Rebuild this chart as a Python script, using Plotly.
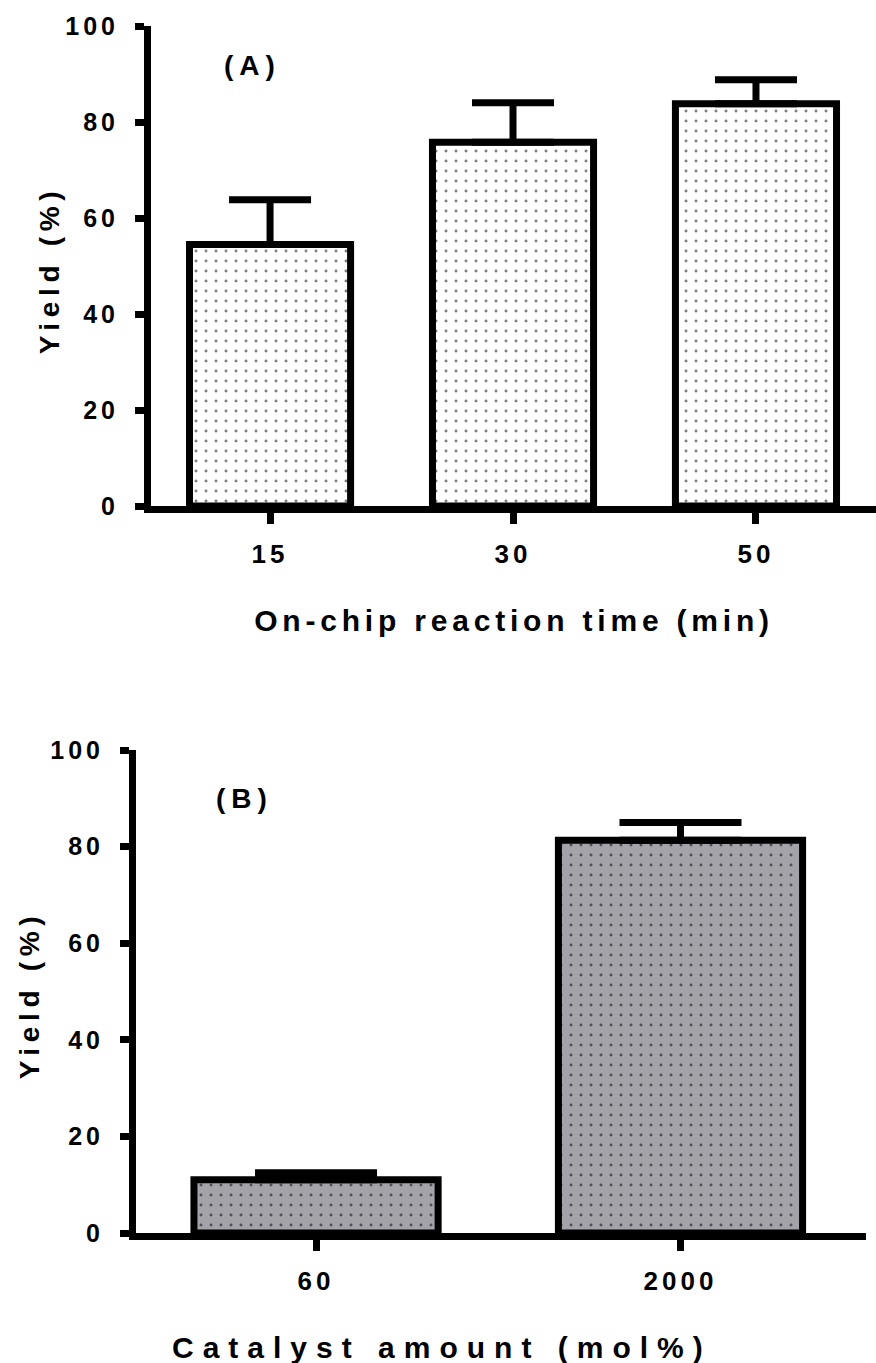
import plotly.graph_objects as go

# ---- data ----
time_labels = ["15", "30", "50"]
time_yield = [54.5, 75.8, 83.8]
time_err = [9.3, 8.2, 5.0]

catalyst_labels = ["60", "2000"]
catalyst_yield = [11.0, 81.3]
catalyst_err = [1.5, 3.7]

y_ticks = [0, 20, 40, 60, 80, 100]

W, H = 876, 1363
FONT = "Liberation Sans, Arial, sans-serif"


def px_x(p):
    return p / W


def px_y(p):
    return 1 - p / H


fig = go.Figure()

fig.add_trace(go.Bar(
    x=time_labels, y=time_yield, width=0.663,
    xaxis="x", yaxis="y",
    marker=dict(color="white",
                line=dict(color="black", width=7),
                pattern=dict(shape=".", fgcolor="black", bgcolor="white",
                             size=10, solidity=0.07)),
    error_y=dict(type="data", array=time_err, arrayminus=[0] * len(time_err),
                 symmetric=False, color="black", thickness=7, width=41),
    showlegend=False, hoverinfo="skip",
))

fig.add_trace(go.Bar(
    x=catalyst_labels, y=catalyst_yield, width=0.67,
    xaxis="x2", yaxis="y2",
    marker=dict(color="#a3a3a9",
                line=dict(color="black", width=7),
                pattern=dict(shape=".", fgcolor="black", bgcolor="#a3a3a9",
                             size=10, solidity=0.07)),
    error_y=dict(type="data", array=catalyst_err, arrayminus=[0] * len(catalyst_err),
                 symmetric=False, color="black", thickness=7, width=61),
    showlegend=False, hoverinfo="skip",
))

xcommon = dict(type="category", showline=True, linecolor="black", linewidth=7,
               ticks="outside", ticklen=11, tickwidth=7, tickcolor="black",
               showgrid=False, zeroline=False, ticklabelstandoff=8,
               tickfont=dict(family=FONT, size=26, color="black", weight="bold"))
ycommon = dict(range=[0, 100], tickvals=y_ticks, showline=True, linecolor="black",
               linewidth=7, ticks="outside", ticklen=9, tickwidth=7, tickcolor="black",
               showgrid=False, zeroline=False, ticklabelstandoff=11,
               tickfont=dict(family=FONT, size=25, color="black", weight="bold"))

fig.update_layout(
    width=W, height=H,
    margin=dict(l=0, r=0, t=0, b=0, autoexpand=False),
    paper_bgcolor="white", plot_bgcolor="white",
    bargap=0,
    xaxis=dict(xcommon, domain=[px_x(151), 1.0], range=[-0.49, 2.494], anchor="y"),
    yaxis=dict(ycommon, domain=[px_y(506), px_y(26)], anchor="x"),
    xaxis2=dict(xcommon, domain=[px_x(136), px_x(866)], range=[-0.494, 1.509], anchor="y2"),
    yaxis2=dict(ycommon, domain=[px_y(1233), px_y(750)], anchor="x2"),
)

ann_font = dict(family=FONT, color="black", weight="bold")
common_ann = dict(xref="paper", yref="paper", showarrow=False,
                  xanchor="center", yanchor="middle")
fig.add_annotation(text="(A)", x=px_x(252), y=px_y(66), font=dict(ann_font, size=28), **common_ann)
fig.add_annotation(text="(B)", x=px_x(244), y=px_y(798), font=dict(ann_font, size=28), **common_ann)
fig.add_annotation(text="Yield (%)", x=px_x(48.5), y=px_y(270), textangle=-90,
                   font=dict(ann_font, size=28), **common_ann)
fig.add_annotation(text="Yield (%)", x=px_x(28.5), y=px_y(995), textangle=-90,
                   font=dict(ann_font, size=28), **common_ann)
fig.add_annotation(text="On-chip reaction time (min)", x=px_x(514), y=px_y(620),
                   font=dict(ann_font, size=30), **common_ann)
fig.add_annotation(text="Catalyst amount (mol%)", x=px_x(442), y=px_y(1347),
                   font=dict(ann_font, size=30), **common_ann)

post = """
document.documentElement.style.margin = '0';
document.documentElement.style.overflow = 'hidden';
document.body.style.margin = '0';
document.body.style.overflow = 'hidden';
var gd = document.getElementById('{plot_id}');
gd.querySelectorAll('text').forEach(function(t){
  var s = t.textContent || '';
  var ls = '4px';
  if (s.indexOf('Catalyst') === 0) { ls = '9px'; }
  else if (s.indexOf('On-chip') === 0) { ls = '4.8px'; }
  else if (s.indexOf('Yield') === 0) { ls = '5.7px'; }
  else if (s.charAt(0) === '(') { ls = '6px'; }
  t.style.letterSpacing = ls;
});
"""

fig.write_html("out.html", config=dict(displayModeBar=False, staticPlot=True),
               post_script=post)
